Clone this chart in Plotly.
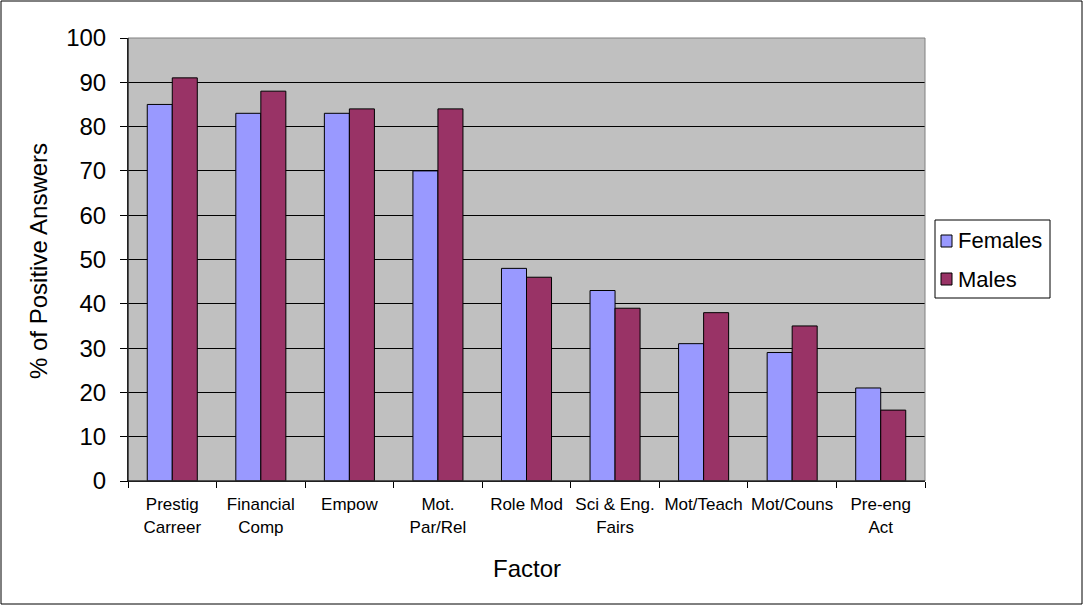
import plotly.graph_objects as go

categories = ["Prestig<br>Carreer", "Financial<br>Comp", "Empow", "Mot.<br>Par/Rel", "Role Mod",
              "Sci & Eng.<br>Fairs", "Mot/Teach", "Mot/Couns", "Pre-eng<br>Act"]
females = [85, 83, 83, 70, 48, 43, 31, 29, 21]
males = [91, 88, 84, 84, 46, 39, 38, 35, 16]
series_names = ["Females", "Males"]
series_colors = ["#9999FF", "#993366"]

W, H = 1084, 607
L, R, T, B = 128, 925, 38, 481
pw, ph = R - L, B - T

def px(x):
    return (x - L) / pw

def py(y):
    return (B - y) / ph

font = "Arial, Liberation Sans, sans-serif"

fig = go.Figure()
for name, vals, col in zip(series_names, [females, males], series_colors):
    fig.add_trace(go.Bar(x=categories, y=vals, name=name, showlegend=False,
                         marker=dict(color=col, line=dict(color="black", width=1))))

shapes = [
    dict(type="rect", xref="paper", yref="paper", x0=0, x1=1, y0=0, y1=1,
         line=dict(color="#808080", width=1), fillcolor="rgba(0,0,0,0)", layer="above"),
    dict(type="line", xref="paper", yref="paper", x0=0, x1=0, y0=0, y1=1,
         line=dict(color="black", width=1), layer="above"),
    dict(type="line", xref="paper", yref="paper", x0=0, x1=1, y0=0, y1=0,
         line=dict(color="black", width=1), layer="above"),
    dict(type="rect", xref="paper", yref="paper",
         x0=px(1), x1=px(1082), y0=py(604), y1=py(1),
         line=dict(color="black", width=1), fillcolor="rgba(0,0,0,0)"),
    # legend box
    dict(type="rect", xref="paper", yref="paper",
         x0=px(935), x1=px(1050), y0=py(298), y1=py(220),
         line=dict(color="black", width=1), fillcolor="white"),
]
annotations = [
    dict(text="% of Positive Answers", xref="paper", yref="paper",
         x=px(38), y=py(261), xanchor="center", yanchor="middle",
         textangle=-90, showarrow=False, font=dict(size=24, family=font)),
    dict(text="Factor", xref="paper", yref="paper",
         x=px(527), y=py(568), xanchor="center", yanchor="middle",
         showarrow=False, font=dict(size=24, family=font)),
]
legend_rows = [241, 279]
for name, col, yc in zip(series_names, series_colors, legend_rows):
    shapes.append(dict(type="rect", xref="paper", yref="paper",
                       x0=px(941), x1=px(952), y0=py(yc + 6), y1=py(yc - 6),
                       line=dict(color="black", width=1), fillcolor=col))
    annotations.append(dict(text=name, xref="paper", yref="paper",
                            x=px(956), y=py(yc), xanchor="left", yanchor="middle",
                            showarrow=False, font=dict(size=22, family=font)))

fig.update_layout(
    width=W, height=H,
    margin=dict(l=L, r=W - R, t=T, b=H - B, pad=0, autoexpand=False),
    paper_bgcolor="white",
    plot_bgcolor="#C0C0C0",
    barmode="group",
    bargap=0.435,
    bargroupgap=0,
    font=dict(family=font, color="black"),
    showlegend=False,
    xaxis=dict(
        tickfont=dict(size=17, family=font), tickangle=0,
        showline=True, linecolor="black", linewidth=1,
        ticks="outside", tickson="boundaries", ticklen=6, tickcolor="black",
        ticklabelstandoff=8,
        showgrid=False, fixedrange=True, automargin=False,
    ),
    yaxis=dict(
        range=[0, 100], tickvals=[0, 10, 20, 30, 40, 50, 60, 70, 80, 90, 100],
        tickfont=dict(size=24, family=font),
        showline=True, linecolor="black", linewidth=1,
        ticks="outside", ticklen=7, tickcolor="black",
        ticklabelstandoff=9,
        showgrid=True, gridcolor="black", gridwidth=1,
        zeroline=False, fixedrange=True, automargin=False,
    ),
    annotations=annotations,
    shapes=shapes,
)

fig.write_html("out.html")
